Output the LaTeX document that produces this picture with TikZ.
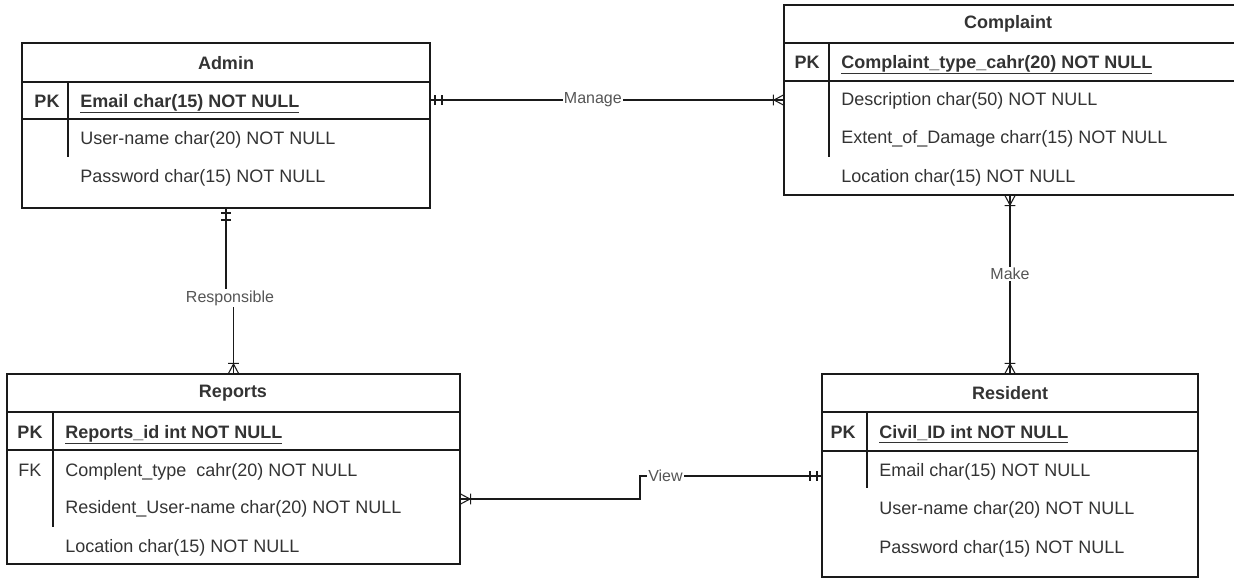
\documentclass[tikz,border=0pt]{standalone}
\usepackage{fontspec}
\setmainfont{Liberation Sans}
\usepackage{xcolor}
\definecolor{ERLine}{HTML}{1A1A1A}
\definecolor{ERText}{HTML}{333333}
\definecolor{ERLabel}{HTML}{555555}
\usetikzlibrary{fit}
\usetikzlibrary{arrows.meta}

% crow's foot with a bar: one or many
\pgfdeclarearrow{
	name = crowfoot,
	setup code = {
		\pgfarrowssettipend{0pt}
		\pgfarrowssetlineend{0pt}
		\pgfarrowssetbackend{-8pt}
	},
	drawing code = {
		\pgfpathmoveto{\pgfpoint{0pt}{4pt}}
		\pgfpathlineto{\pgfpoint{-7.5pt}{0pt}}
		\pgfpathlineto{\pgfpoint{0pt}{-4pt}}
		\pgfpathmoveto{\pgfpoint{-8pt}{4pt}}
		\pgfpathlineto{\pgfpoint{-8pt}{-4pt}}
		\pgfusepathqstroke
	}
}
% two bars: one and only one
\pgfdeclarearrow{
	name = onlyone,
	setup code = {
		\pgfarrowssettipend{0pt}
		\pgfarrowssetlineend{0pt}
		\pgfarrowssetbackend{-9pt}
	},
	drawing code = {
		\pgfpathmoveto{\pgfpoint{-3.75pt}{3.75pt}}
		\pgfpathlineto{\pgfpoint{-3.75pt}{-3.75pt}}
		\pgfpathmoveto{\pgfpoint{-9pt}{3.75pt}}
		\pgfpathlineto{\pgfpoint{-9pt}{-3.75pt}}
		\pgfusepathqstroke
	}
}

\tikzset{
	entity/.style={draw=ERLine,line width=1pt,inner sep=0pt,outer sep=0pt},
	rowline/.style={draw=ERLine,line width=1pt},
	etitle/.style={text=ERText,font=\fontsize{13.5}{16}\selectfont\bfseries,inner sep=0pt},
	ekey/.style={text=ERText,font=\fontsize{13.5}{16}\selectfont\bfseries,inner sep=0pt,text height=11pt,text depth=2pt},
	fkey/.style={text=ERText,font=\fontsize{13.5}{16}\selectfont,inner sep=0pt,text height=11pt,text depth=2pt},
	pkattr/.style={anchor=west,text=ERText,font=\fontsize{13.5}{16}\selectfont\bfseries,inner sep=0pt,text height=11pt,text depth=2pt},
	attr/.style={anchor=west,text=ERText,font=\fontsize{13.5}{16}\selectfont,inner sep=0pt,text height=11pt,text depth=2pt},
	rel/.style={draw=ERLine,line width=0.8pt},
	rellabel/.style={fill=white,text=ERLabel,font=\fontsize{12}{14}\selectfont,inner sep=1pt}
}

\begin{document}
\begin{tikzpicture}[x=0.75pt,y=-0.75pt]
	\useasboundingbox (0,0) rectangle (1234,578);
	
	% Admin
	\node[entity,fit={(22,43) (430,208)}] (admin) {};
	\draw[rowline] (22,82) -- (430,82);
	\draw[rowline] (22,119) -- (430,119);
	\draw[rowline] (68,82) -- (68,157);
	\node[etitle] (admin-title) at (226,63) {Admin};
	\node[ekey] (admin-key) at (47,101) {PK};
	\node[pkattr] (admin-pk) at (80,101) {\underline{Email char(15) NOT NULL}};
	\node[attr] (admin-user) at (80,138) {User-name char(20) NOT NULL};
	\node[attr] (admin-pass) at (80,176) {Password char(15) NOT NULL};
	
	% Complaint
	\node[entity,fit={(784,5) (1240,195)}] (complaint) {};
	\draw[rowline] (784,43) -- (1240,43);
	\draw[rowline] (784,81) -- (1240,81);
	\draw[rowline] (829,43) -- (829,157);
	\node[etitle] (complaint-title) at (1008,24) {Complaint};
	\node[ekey] (complaint-key) at (807,62) {PK};
	\node[pkattr] (complaint-pk) at (841,62) {\underline{Complaint\_type\_cahr(20) NOT NULL}};
	\node[attr] (complaint-desc) at (841,99) {Description char(50) NOT NULL};
	\node[attr] (complaint-extent) at (841,137) {Extent\_of\_Damage charr(15) NOT NULL};
	\node[attr] (complaint-loc) at (841,176) {Location char(15) NOT NULL};
	
	% Reports
	\node[entity,fit={(7,374) (460,564)}] (reports) {};
	\draw[rowline] (7,412) -- (460,412);
	\draw[rowline] (7,450) -- (460,450);
	\draw[rowline] (53,412) -- (53,527);
	\node[etitle] (reports-title) at (233,393) {Reports};
	\node[ekey] (reports-key) at (30,432) {PK};
	\node[pkattr] (reports-pk) at (65,432) {\underline{Reports\_id int NOT NULL}};
	\node[fkey] (reports-fkey) at (30,470) {FK};
	\node[attr] (reports-type) at (65,470) {Complent\_type\ \ cahr(20) NOT NULL};
	\node[attr] (reports-user) at (65,507) {Resident\_User-name char(20) NOT NULL};
	\node[attr] (reports-loc) at (65,546) {Location char(15) NOT NULL};
	
	% Resident
	\node[entity,fit={(822,374) (1198,577)}] (resident) {};
	\draw[rowline] (822,412) -- (1198,412);
	\draw[rowline] (822,451) -- (1198,451);
	\draw[rowline] (867,412) -- (867,488);
	\node[etitle] (resident-title) at (1010,393) {Resident};
	\node[ekey] (resident-key) at (843,432) {PK};
	\node[pkattr] (resident-pk) at (879,432) {\underline{Civil\_ID int NOT NULL}};
	\node[attr] (resident-email) at (879,470) {Email char(15) NOT NULL};
	\node[attr] (resident-user) at (879,508) {User-name char(20) NOT NULL};
	\node[attr] (resident-pass) at (879,547) {Password char(15) NOT NULL};
	
	% relations
	\coordinate (manage-y) at (0,100);
	\draw[rel,onlyone-crowfoot] (admin.east |- manage-y) -- node[rellabel,pos=0.46] (manage) {Manage} (complaint.west |- manage-y);
	
	\coordinate (resp-bend) at (230,298);
	\draw[rel,onlyone-crowfoot] (admin.south) |- (resp-bend) -| (reports.north);
	\node[rellabel] (responsible) at (resp-bend) {Responsible};
	
	\draw[rel,crowfoot-crowfoot] (resident.north |- complaint.south) -- node[rellabel,pos=0.44] (make) {Make} (resident.north);
	
	\coordinate (view-start) at (0,499);
	\coordinate (view-bend) at (640,476);
	\draw[rel,crowfoot-onlyone] (reports.east |- view-start) -| (view-bend) -- node[rellabel,pos=0.14] (view) {View} (resident.west |- view-bend);
	
\end{tikzpicture}
\end{document}
